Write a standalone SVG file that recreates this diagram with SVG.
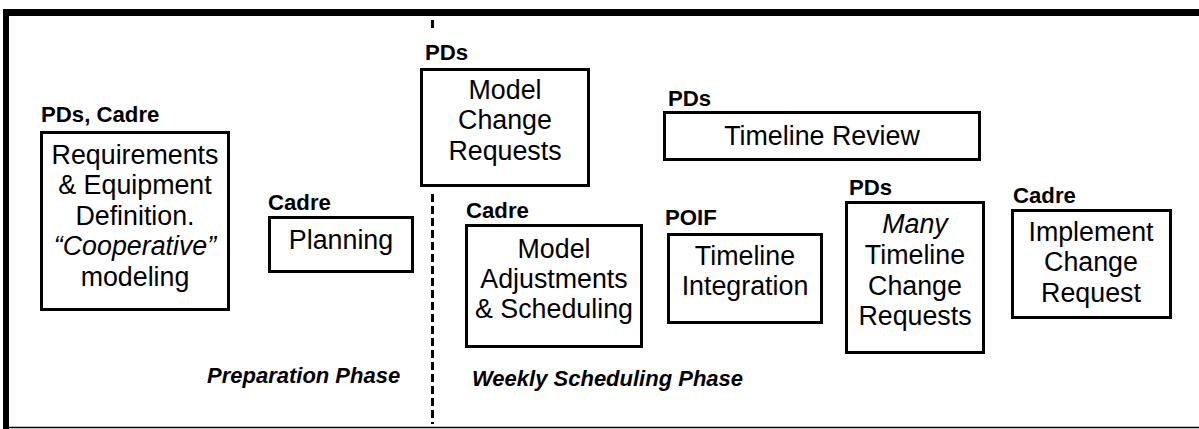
<svg xmlns="http://www.w3.org/2000/svg" width="1199" height="429" viewBox="0 0 1199 429">
<style>
.box{fill:#fff;stroke:#000;stroke-width:3}
.t{font-family:"Liberation Sans",Arial,sans-serif;font-size:26.8px;fill:#000;text-anchor:middle}
.lb{font-family:"Liberation Sans",Arial,sans-serif;font-size:22.2px;font-weight:bold;fill:#000}
.ph{font-family:"Liberation Sans",Arial,sans-serif;font-size:22px;font-weight:bold;font-style:italic;fill:#000}
.dash{stroke:#000;stroke-width:3;stroke-dasharray:8 4;fill:none}
</style>
<rect x="0" y="0" width="1199" height="429" fill="#fff"/>
<g id="frame">
<line x1="3" y1="12.5" x2="1199" y2="12.5" stroke="#000" stroke-width="7"/>
<line x1="6" y1="9" x2="6" y2="429" stroke="#000" stroke-width="6"/>
<line x1="9" y1="427.5" x2="1199" y2="427.5" stroke="#000" stroke-width="1.5"/>
</g>
<g id="connectors">
<line class="dash" x1="432.5" y1="20" x2="432.5" y2="32"/>
<line class="dash" x1="432.5" y1="194" x2="432.5" y2="424"/>
</g>
<g id="requirements">
<text class="lb" x="41" y="122">PDs, Cadre</text>
<rect class="box" x="41.5" y="132.5" width="187" height="177"/>
<text class="t" x="135" y="164">Requirements</text>
<text class="t" x="135" y="194">&amp; Equipment</text>
<text class="t" x="135" y="225">Definition.</text>
<text class="t" x="135" y="255" font-style="italic">“Cooperative”</text>
<text class="t" x="135" y="286">modeling</text>
</g>
<g id="planning">
<text class="lb" x="268" y="210">Cadre</text>
<rect class="box" x="269.5" y="217.5" width="143" height="54"/>
<text class="t" x="341" y="249">Planning</text>
</g>
<g id="model-change-requests">
<text class="lb" x="425" y="60">PDs</text>
<rect class="box" x="421.5" y="69.5" width="167" height="116"/>
<text class="t" x="505" y="99">Model</text>
<text class="t" x="505" y="129">Change</text>
<text class="t" x="505" y="160">Requests</text>
</g>
<g id="timeline-review">
<text class="lb" x="668" y="106">PDs</text>
<rect class="box" x="664.5" y="112.5" width="315" height="47"/>
<text class="t" x="822" y="145">Timeline Review</text>
</g>
<g id="model-adjustments">
<text class="lb" x="466" y="218">Cadre</text>
<rect class="box" x="466.5" y="225.5" width="175" height="121"/>
<text class="t" x="554" y="258">Model</text>
<text class="t" x="554" y="288">Adjustments</text>
<text class="t" x="554" y="318">&amp; Scheduling</text>
</g>
<g id="timeline-integration">
<text class="lb" x="665" y="225">POIF</text>
<rect class="box" x="668.5" y="234.5" width="153" height="88"/>
<text class="t" x="745" y="265">Timeline</text>
<text class="t" x="745" y="295">Integration</text>
</g>
<g id="timeline-change-requests">
<text class="lb" x="849" y="195">PDs</text>
<rect class="box" x="846.5" y="202.5" width="137" height="150"/>
<text class="t" x="915" y="233" font-style="italic">Many</text>
<text class="t" x="915" y="264">Timeline</text>
<text class="t" x="915" y="295">Change</text>
<text class="t" x="915" y="325">Requests</text>
</g>
<g id="implement-change-request">
<text class="lb" x="1013" y="203">Cadre</text>
<rect class="box" x="1012.5" y="210.5" width="158" height="107"/>
<text class="t" x="1091" y="241">Implement</text>
<text class="t" x="1091" y="271">Change</text>
<text class="t" x="1091" y="302">Request</text>
</g>
<g id="phases">
<text class="ph" x="207" y="383">Preparation Phase</text>
<text class="ph" x="472" y="386">Weekly Scheduling Phase</text>
</g>
</svg>
